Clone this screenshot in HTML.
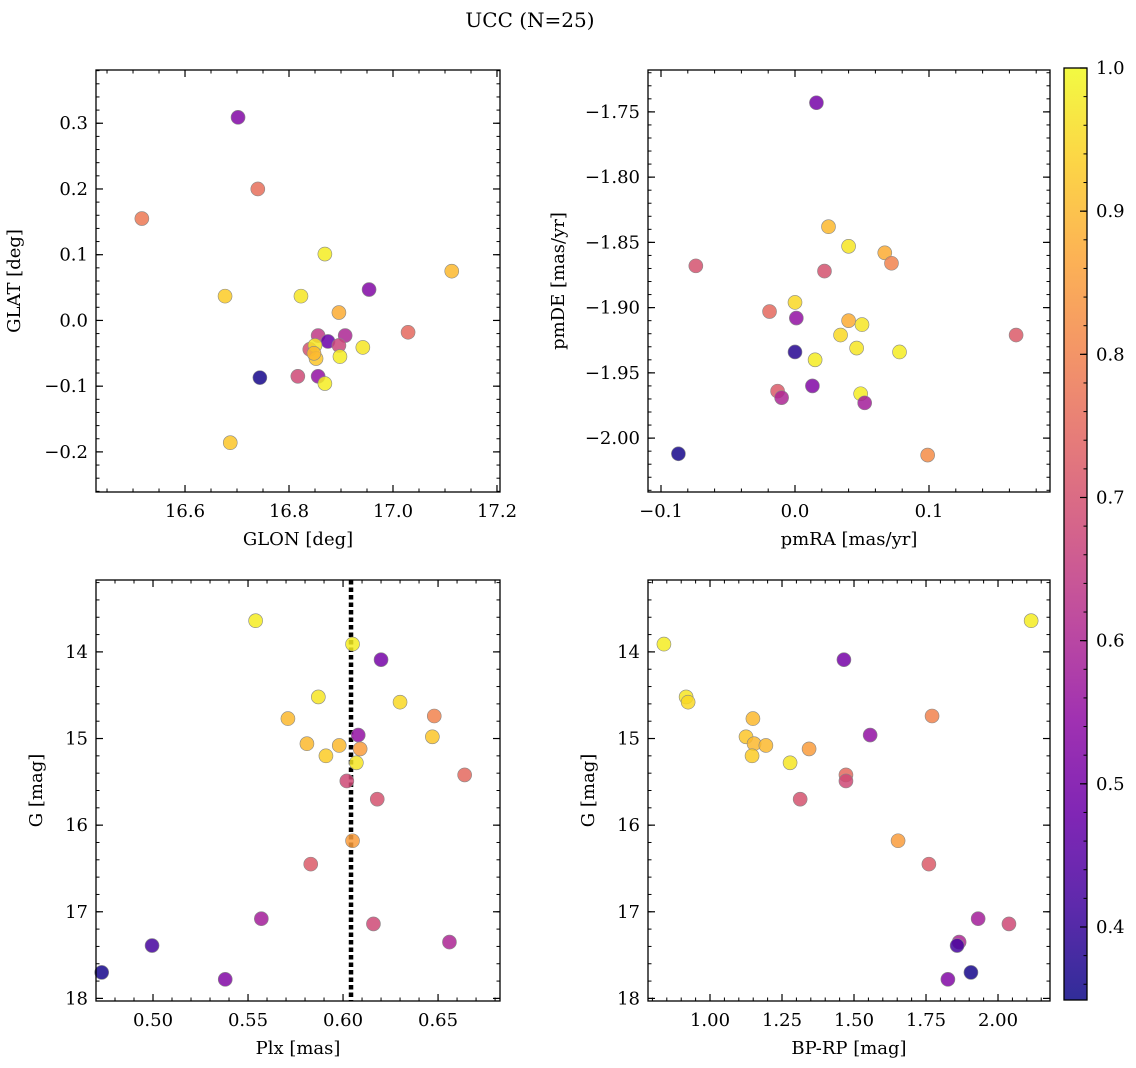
<!DOCTYPE html>
<html><head><meta charset="utf-8"><style>
html,body{margin:0;padding:0;background:#fff}
svg{display:block;font-family:"DejaVu Serif","Liberation Serif",serif}
</style></head><body>
<svg id="fig" width="1136" height="1068" viewBox="0 0 1136 1068" xmlns="http://www.w3.org/2000/svg">
<text x="530" y="27" font-size="20" text-anchor="middle">UCC (N=25)</text>
</svg>
<script>
// ---- data ----
const glon = [16.517,16.702,16.740,16.677,16.687,16.744,16.869,16.823,16.896,17.029,17.113,16.954,16.856,16.875,16.908,16.896,16.840,16.850,16.852,16.898,16.942,16.817,16.856,16.869,16.848];
const glat = [0.155,0.309,0.200,0.037,-0.186,-0.087,0.101,0.037,0.012,-0.018,0.075,0.047,-0.023,-0.032,-0.023,-0.038,-0.044,-0.038,-0.058,-0.055,-0.041,-0.085,-0.085,-0.096,-0.050];
const probA = [0.78,0.52,0.76,0.93,0.92,0.36,0.98,0.97,0.88,0.75,0.90,0.52,0.64,0.48,0.60,0.67,0.70,0.97,0.92,0.98,0.97,0.68,0.55,0.98,0.90];

const pmra = [0.016,0.025,0.040,0.067,0.072,-0.074,0.022,0.0,-0.019,0.001,0.040,0.050,0.034,0.165,0.046,0.078,0.0,0.015,0.013,-0.013,0.049,-0.010,0.052,-0.087,0.099];
const pmde = [-1.743,-1.838,-1.853,-1.858,-1.866,-1.868,-1.872,-1.896,-1.903,-1.908,-1.910,-1.913,-1.921,-1.921,-1.931,-1.934,-1.934,-1.940,-1.960,-1.964,-1.966,-1.969,-1.973,-2.012,-2.013];
const probB = [0.50,0.90,0.97,0.88,0.80,0.70,0.70,0.95,0.75,0.55,0.88,0.97,0.95,0.72,0.97,0.98,0.38,0.98,0.52,0.72,0.98,0.60,0.58,0.36,0.82];

const plx  = [0.554,0.605,0.620,0.587,0.630,0.571,0.648,0.608,0.647,0.581,0.598,0.609,0.591,0.607,0.664,0.602,0.618,0.605,0.583,0.557,0.616,0.656,0.4995,0.473,0.538];
const gmag = [13.64,13.91,14.09,14.52,14.58,14.77,14.74,14.96,14.98,15.06,15.08,15.12,15.20,15.28,15.42,15.49,15.70,16.18,16.45,17.08,17.14,17.35,17.39,17.70,17.78];
const bprp = [2.115,0.840,1.465,0.917,0.924,1.149,1.771,1.556,1.125,1.153,1.194,1.344,1.146,1.278,1.472,1.472,1.313,1.653,1.760,1.931,2.038,1.865,1.858,1.906,1.826];
const probC = [0.98,0.98,0.50,0.97,0.95,0.90,0.80,0.55,0.92,0.90,0.90,0.85,0.93,0.97,0.75,0.68,0.70,0.85,0.72,0.58,0.68,0.60,0.42,0.36,0.52];
const plxMedian = 0.6042;

const tickGlon = [16.6,16.8,17.0,17.2];
const tickGlat = [-0.2,-0.1,0.0,0.1,0.2,0.3];
const tickPmra = [-0.1,0.0,0.1];
const tickPmde = [-2.00,-1.95,-1.90,-1.85,-1.80,-1.75];
const tickPlx = [0.50,0.55,0.60,0.65];
const tickG = [14,15,16,17,18];
const tickBprp = [1.00,1.25,1.50,1.75,2.00];
const tickCbar = [0.4,0.5,0.6,0.7,0.8,0.9,1.0];

const cmin = 0.349, cmax = 1.0;
const NS = "http://www.w3.org/2000/svg";
const svg = document.getElementById('fig');
const FS = 18;

const plasma = [[13,8,135],[65,4,157],[106,0,168],[143,13,164],[177,42,144],[204,71,120],[225,100,98],[242,132,75],[252,166,54],[252,206,37],[240,249,33]];
function cmap(v){
  let t=(v-cmin)/(cmax-cmin); t=Math.max(0,Math.min(1,t));
  const f=t*(plasma.length-1), i=Math.min(plasma.length-2,Math.floor(f)), r=f-i;
  const a=plasma[i], b=plasma[i+1];
  return `rgb(${Math.round(a[0]+(b[0]-a[0])*r)},${Math.round(a[1]+(b[1]-a[1])*r)},${Math.round(a[2]+(b[2]-a[2])*r)})`;
}
function el(tag, attrs, parent){
  const e=document.createElementNS(NS,tag);
  for(const k in attrs) e.setAttribute(k,attrs[k]);
  (parent||svg).appendChild(e); return e;
}
function fmt(v,d){ const s=Math.abs(v).toFixed(d); return (v< -1e-9?'\u2212':'')+s; }

function panel(o){
  const g=el('g',{});
  
  
  const sx=v=>o.L+(v-o.x0)/(o.x1-o.x0)*(o.R-o.L);
  const sy=v=>o.B-(v-o.y0)/(o.y1-o.y0)*(o.B-o.T);
  const eps=1e-9;
  for(let v=Math.ceil(Math.min(o.x0,o.x1)/o.xm-eps)*o.xm; v<=Math.max(o.x0,o.x1)+eps; v+=o.xm){
    const x=sx(v);
    el('line',{x1:x,x2:x,y1:o.B,y2:o.B-3.5,stroke:'#000','stroke-width':1},g);
    el('line',{x1:x,x2:x,y1:o.T,y2:o.T+3.5,stroke:'#000','stroke-width':1},g);
  }
  for(let v=Math.ceil(Math.min(o.y0,o.y1)/o.ym-eps)*o.ym; v<=Math.max(o.y0,o.y1)+eps; v+=o.ym){
    const y=sy(v);
    el('line',{x1:o.L,x2:o.L+3.5,y1:y,y2:y,stroke:'#000','stroke-width':1},g);
    el('line',{x1:o.R,x2:o.R-3.5,y1:y,y2:y,stroke:'#000','stroke-width':1},g);
  }
  o.xt.forEach(v=>{
    const x=sx(v);
    el('line',{x1:x,x2:x,y1:o.B,y2:o.B-7,stroke:'#000','stroke-width':1.2},g);
    el('line',{x1:x,x2:x,y1:o.T,y2:o.T+7,stroke:'#000','stroke-width':1.2},g);
    const t=el('text',{x:x,y:o.B+25,'font-size':FS,'text-anchor':'middle'},g);
    t.textContent=fmt(v,o.xd);
    
    
  });
  o.yt.forEach(v=>{
    const y=sy(v);
    el('line',{x1:o.L,x2:o.L+7,y1:y,y2:y,stroke:'#000','stroke-width':1.2},g);
    el('line',{x1:o.R,x2:o.R-7,y1:y,y2:y,stroke:'#000','stroke-width':1.2},g);
    const t=el('text',{x:o.L-8,y:y+6,'font-size':FS,'text-anchor':'end'},g);
    t.textContent=fmt(v,o.yd);
    
    
  });
  if(o.vline!==undefined){
    const x=sx(o.vline);
    const ln=el('line',{x1:x,x2:x,y1:o.T,y2:o.B,stroke:'#000','stroke-width':4.5,'stroke-dasharray':'4.5,3'},g);
    
    
  }
  o.xs.forEach((xv,i)=>{
    const c=el('circle',{cx:sx(xv),cy:sy(o.ys[i]),r:7,fill:cmap(o.cs[i]),'fill-opacity':0.85,stroke:'#888','stroke-width':0.6},g);
    
    
  });
  const fr=el('rect',{x:o.L,y:o.T,width:o.R-o.L,height:o.B-o.T,fill:'none',stroke:'#000','stroke-width':1.3},g);
  
  
  const xl=el('text',{x:(o.L+o.R)/2,y:o.B+53,'font-size':FS,'text-anchor':'middle'},g);
  xl.textContent=o.xlab;
  
  
  const yx=o.L-o.ylOff, yy=(o.T+o.B)/2;
  const yl=el('text',{x:yx,y:yy,'font-size':FS,'text-anchor':'middle',transform:`rotate(-90 ${yx} ${yy})`},g);
  yl.textContent=o.ylab;
  
  
}

panel({name:'glon-glat-panel',L:96,R:500,T:70,B:492,x0:16.4288,x1:17.2058,y0:-0.261,y1:0.381,xm:0.05,ym:0.02,xt:tickGlon,yt:tickGlat,xd:1,yd:1,xs:glon,ys:glat,cs:probA,xlab:'GLON [deg]',ylab:'GLAT [deg]',ylOff:76});
panel({name:'pm-panel',L:648,R:1050,T:70,B:492,x0:-0.1097,x1:0.1903,y0:-2.0413,y1:-1.7179,xm:0.02,ym:0.01,xt:tickPmra,yt:tickPmde,xd:1,yd:2,xs:pmra,ys:pmde,cs:probB,xlab:'pmRA [mas/yr]',ylab:'pmDE [mas/yr]',ylOff:84});
panel({name:'plx-g-panel',L:96,R:500,T:580,B:1001,x0:0.4700,x1:0.6826,y0:18.03,y1:13.17,xm:0.01,ym:0.2,xt:tickPlx,yt:tickG,xd:2,yd:0,xs:plx,ys:gmag,cs:probC,xlab:'Plx [mas]',ylab:'G [mag]',ylOff:54,vline:plxMedian});
panel({name:'cmd-panel',L:648,R:1050,T:580,B:1001,x0:0.7847,x1:2.1805,y0:18.03,y1:13.17,xm:0.05,ym:0.2,xt:tickBprp,yt:tickG,xd:2,yd:0,xs:bprp,ys:gmag,cs:probC,xlab:'BP-RP [mag]',ylab:'G [mag]',ylOff:54});

// colorbar
(function(){
  const L=1064,R=1087,T=68,B=1000;
  const g=el('g',{});
  
  
  const defs=el('defs',{},g);
  const lg=el('linearGradient',{id:'cbg',x1:0,y1:1,x2:0,y2:0},defs);
  for(let i=0;i<=20;i++){
    const v=cmin+(cmax-cmin)*i/20;
    el('stop',{offset:(i/20),'stop-color':cmap(v),'stop-opacity':0.85},lg);
  }
  el('rect',{x:L,y:T,width:R-L,height:B-T,fill:'url(#cbg)'},g);
  const sy=v=>B-(v-cmin)/(cmax-cmin)*(B-T);
  for(let v=0.36; v<=1.0001; v+=0.02){
    const y=sy(v); el('line',{x1:R,x2:R-3.5,y1:y,y2:y,stroke:'#000','stroke-width':1},g);
  }
  tickCbar.forEach(v=>{
    const y=sy(v);
    el('line',{x1:R,x2:R-7,y1:y,y2:y,stroke:'#000','stroke-width':1.2},g);
    const t=el('text',{x:R+9,y:y+6,'font-size':FS},g);
    t.textContent=v.toFixed(1);
    
    
  });
  el('rect',{x:L,y:T,width:R-L,height:B-T,fill:'none',stroke:'#000','stroke-width':1.3},g);
})();
</script>
</body></html>
